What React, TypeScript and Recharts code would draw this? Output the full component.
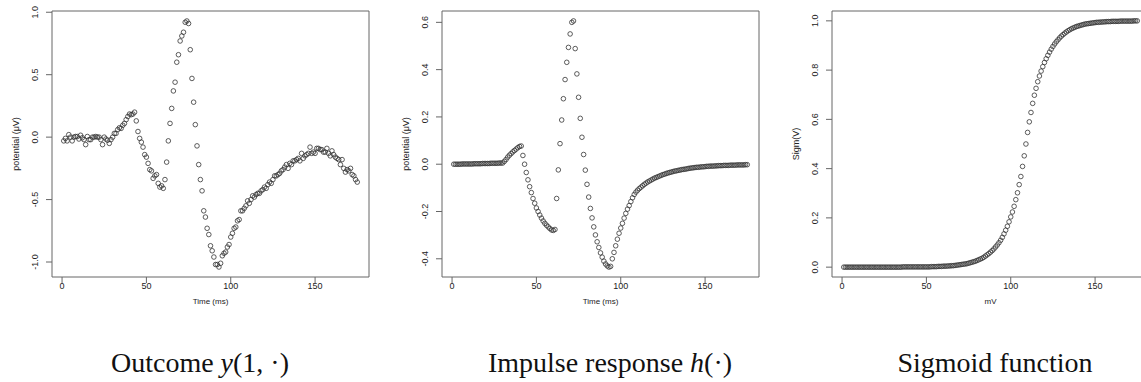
import React from "react";
import { ScatterChart, Scatter, XAxis, YAxis, ReferenceArea } from "recharts";

// sample index (ms), 1..175
const times = Array.from({ length: 175 }, (_, i) => i + 1);

const xTicks = [0, 50, 100, 150];

// Outcome y(1, .) -- noisy measured response
const outcomeValues = [
  -0.03, -0.01, -0.03, 0.02, 0.0, -0.03, 0.0, 0.005, 0.005, -0.015,
  0.015, -0.005, -0.02, -0.06, 0.005, -0.02, -0.02, 0.0, 0.0, 0.005,
  0.0, 0.0, -0.02, -0.06, 0.0, -0.015, -0.025, -0.05, -0.02, 0.0,
  0.03, 0.03, 0.06, 0.075, 0.07, 0.095, 0.11, 0.14, 0.165, 0.185,
  0.18, 0.185, 0.2, 0.13, 0.045, -0.01, -0.04, -0.08, -0.14, -0.16,
  -0.21, -0.26, -0.27, -0.33, -0.31, -0.3, -0.37, -0.4, -0.39, -0.41,
  -0.34, -0.2, -0.03, 0.11, 0.23, 0.37, 0.44, 0.6, 0.66, 0.77,
  0.81, 0.84, 0.92, 0.93, 0.91, 0.7, 0.47, 0.28, 0.1, -0.07,
  -0.22, -0.34, -0.43, -0.59, -0.64, -0.73, -0.78, -0.87, -0.91, -0.96,
  -1.02, -1.02, -1.04, -1.01, -0.95, -0.93, -0.92, -0.88, -0.86, -0.8,
  -0.77, -0.73, -0.72, -0.67, -0.66, -0.59, -0.59, -0.57, -0.55, -0.51,
  -0.53, -0.5, -0.47, -0.48, -0.46, -0.45, -0.45, -0.43, -0.42, -0.4,
  -0.41, -0.38, -0.36, -0.37, -0.34, -0.31, -0.31, -0.3, -0.29, -0.27,
  -0.26, -0.24, -0.22, -0.25, -0.21, -0.22, -0.19, -0.19, -0.18, -0.17,
  -0.19, -0.13, -0.17, -0.15, -0.14, -0.13, -0.08, -0.13, -0.12, -0.13,
  -0.09, -0.09, -0.1, -0.1, -0.12, -0.12, -0.09, -0.13, -0.15, -0.11,
  -0.14, -0.16, -0.17, -0.18, -0.22, -0.18, -0.25, -0.28, -0.26, -0.27,
  -0.25, -0.3, -0.31, -0.34, -0.36,
];

// Impulse response h(.)
const impulseValues = [
  0, 0, 0, 0, 0, 0.001, 0.001, 0.001, 0.001, 0.001,
  0.001, 0.001, 0.002, 0.002, 0.002, 0.002, 0.002, 0.003, 0.003, 0.003,
  0.003, 0.003, 0.004, 0.004, 0.004, 0.004, 0.004, 0.005, 0.005, 0.005,
  0.012, 0.02, 0.03, 0.038, 0.045, 0.052, 0.058, 0.064, 0.07, 0.075,
  0.077, 0.037, 0.0, -0.035, -0.066, -0.095, -0.12, -0.145, -0.165, -0.185,
  -0.2, -0.215, -0.228, -0.24, -0.25, -0.258, -0.265, -0.272, -0.278, -0.28,
  -0.276, -0.145, -0.024, 0.087, 0.187, 0.277, 0.358, 0.431, 0.494, 0.551,
  0.6, 0.606, 0.489, 0.382, 0.283, 0.194, 0.114, 0.041, -0.025, -0.085,
  -0.139, -0.187, -0.227, -0.265, -0.299, -0.328, -0.352, -0.375, -0.393, -0.41,
  -0.422, -0.43, -0.435, -0.432, -0.4, -0.373, -0.345, -0.317, -0.292, -0.27,
  -0.25, -0.228, -0.208, -0.19, -0.175, -0.158, -0.142, -0.128, -0.118, -0.11,
  -0.103, -0.097, -0.091, -0.085, -0.08, -0.075, -0.071, -0.067, -0.063, -0.059,
  -0.056, -0.053, -0.05, -0.047, -0.044, -0.042, -0.039, -0.037, -0.035, -0.033,
  -0.031, -0.029, -0.028, -0.026, -0.025, -0.023, -0.022, -0.021, -0.02, -0.018,
  -0.017, -0.016, -0.015, -0.014, -0.013, -0.013, -0.012, -0.011, -0.011, -0.01,
  -0.009, -0.009, -0.008, -0.008, -0.008, -0.007, -0.007, -0.006, -0.006, -0.006,
  -0.005, -0.005, -0.005, -0.005, -0.004, -0.004, -0.004, -0.004, -0.003, -0.003,
  -0.003, -0.003, -0.003, -0.002, -0.002,
];

// Sigmoid function
const sigmoidValues = [
  0, 0, 0, 0, 0, 0, 0, 0, 0, 0,
  0, 0, 0, 0, 0, 0, 0, 0, 0, 0,
  0, 0, 0, 0, 0, 0, 0, 0, 0, 0,
  0, 0, 0, 0, 0, 0.001, 0.001, 0.001, 0.001, 0.001,
  0.001, 0.001, 0.001, 0.001, 0.001, 0.001, 0.001, 0.001, 0.001, 0.001,
  0.001, 0.001, 0.002, 0.002, 0.002, 0.002, 0.003, 0.003, 0.003, 0.004,
  0.004, 0.004, 0.005, 0.005, 0.006, 0.006, 0.007, 0.008, 0.009, 0.01,
  0.011, 0.012, 0.013, 0.014, 0.016, 0.018, 0.02, 0.022, 0.024, 0.027,
  0.03, 0.033, 0.036, 0.04, 0.045, 0.05, 0.055, 0.061, 0.067, 0.074,
  0.082, 0.09, 0.099, 0.109, 0.121, 0.135, 0.15, 0.166, 0.184, 0.204,
  0.224, 0.247, 0.274, 0.302, 0.335, 0.368, 0.409, 0.452, 0.5, 0.547,
  0.59, 0.628, 0.665, 0.698, 0.726, 0.753, 0.776, 0.796, 0.814, 0.831,
  0.846, 0.86, 0.873, 0.885, 0.896, 0.906, 0.915, 0.923, 0.931, 0.938,
  0.944, 0.95, 0.955, 0.96, 0.964, 0.968, 0.971, 0.974, 0.977, 0.979,
  0.981, 0.983, 0.985, 0.987, 0.988, 0.989, 0.99, 0.991, 0.992, 0.993,
  0.994, 0.994, 0.995, 0.995, 0.996, 0.996, 0.997, 0.997, 0.997, 0.998,
  0.998, 0.998, 0.998, 0.998, 0.999, 0.999, 0.999, 0.999, 0.999, 0.999,
  0.999, 0.999, 1.0, 1.0, 1.0,
];

const outcomeTicks = [-1, -0.5, 0, 0.5, 1];
const impulseTicks = [-0.4, -0.2, 0, 0.2, 0.4, 0.6];
const sigmoidTicks = [0, 0.2, 0.4, 0.6, 0.8, 1];

const toPoints = (vals: number[]) => times.map((t, i) => ({ x: t, y: vals[i] }));

const FONT = "'Liberation Sans', Arial, sans-serif";
const AXIS = "#666";
const X_DOMAIN: [number, number] = [-5.96, 181.96];

const Ring = (p: any) => (
  <circle cx={p.cx} cy={p.cy} r={2.3} fill="none" stroke="#333" strokeWidth={0.8} />
);

const XTick = ({ x, y, payload }: any) => (
  <text x={x} y={y + 1} textAnchor="middle" dominantBaseline="central" fontSize={9} fill="#222" fontFamily={FONT}>
    {payload.value}
  </text>
);

const YTick = ({ x, y, payload }: any) => (
  <text
    x={x - 9}
    y={y}
    transform={`rotate(-90, ${x - 9}, ${y})`}
    textAnchor="middle"
    dominantBaseline="central"
    fontSize={9}
    fill="#222"
    fontFamily={FONT}
  >
    {Number(payload.value).toFixed(1)}
  </text>
);

type PanelProps = {
  left: number;
  values: number[];
  yDomain: [number, number];
  yTicks: number[];
  xLabel: string;
  yLabel: string;
};

function Panel({ left, values, yDomain, yTicks, xLabel, yLabel }: PanelProps) {
  return (
    <div style={{ position: "absolute", left, top: 0 }}>
      <ScatterChart width={380} height={310} margin={{ top: 11, right: 11, bottom: 0, left: 4 }}>
        <XAxis
          type="number"
          dataKey="x"
          domain={X_DOMAIN}
          allowDataOverflow
          ticks={xTicks}
          interval={0}
          axisLine={false}
          tickLine={{ stroke: AXIS }}
          tickSize={6}
          height={33}
          tick={<XTick />}
          label={{
            value: xLabel,
            position: "insideBottom",
            offset: 6,
            style: { fontSize: 8, fill: "#222", fontFamily: FONT },
          }}
        />
        <YAxis
          type="number"
          dataKey="y"
          domain={yDomain}
          allowDataOverflow
          ticks={yTicks}
          interval={0}
          axisLine={false}
          tickLine={{ stroke: AXIS }}
          tickSize={6}
          width={48}
          tick={<YTick />}
          label={{
            value: yLabel,
            angle: -90,
            position: "insideLeft",
            offset: 12,
            style: { fontSize: 9, fill: "#222", fontFamily: FONT, textAnchor: "middle" },
          }}
        />
        <ReferenceArea
          x1={X_DOMAIN[0]}
          x2={X_DOMAIN[1]}
          y1={yDomain[0]}
          y2={yDomain[1]}
          fill="none"
          stroke={AXIS}
          strokeWidth={1}
          ifOverflow="visible"
        />
        <Scatter data={toPoints(values)} shape={Ring} isAnimationActive={false} />
      </ScatterChart>
    </div>
  );
}

export default function App() {
  return (
    <div
      style={{
        position: "fixed",
        left: 0,
        top: 0,
        width: 1141,
        height: 382,
        overflow: "hidden",
        background: "#fff",
      }}
    >
      <Panel
        left={0}
        values={outcomeValues}
        yDomain={[-1.12, 1.01]}
        yTicks={outcomeTicks}
        xLabel="Time (ms)"
        yLabel="potential (μV)"
      />
      <Panel
        left={390}
        values={impulseValues}
        yDomain={[-0.477, 0.648]}
        yTicks={impulseTicks}
        xLabel="Time (ms)"
        yLabel="potential (μV)"
      />
      <Panel
        left={780}
        values={sigmoidValues}
        yDomain={[-0.04, 1.04]}
        yTicks={sigmoidTicks}
        xLabel="mV"
        yLabel="Sigm(V)"
      />
      <svg width={1141} height={382} style={{ position: "absolute", left: 0, top: 0, pointerEvents: "none" }}>
        <g fontFamily="'Liberation Serif', 'Times New Roman', serif" fontSize={28} fill="#111" textAnchor="middle">
          <text x={200} y={372}>
            Outcome <tspan fontStyle="italic">y</tspan>(1, ·)
          </text>
          <text x={610} y={372}>
            Impulse response <tspan fontStyle="italic">h</tspan>(·)
          </text>
          <text x={995} y={372}>
            Sigmoid function
          </text>
        </g>
      </svg>
    </div>
  );
}
